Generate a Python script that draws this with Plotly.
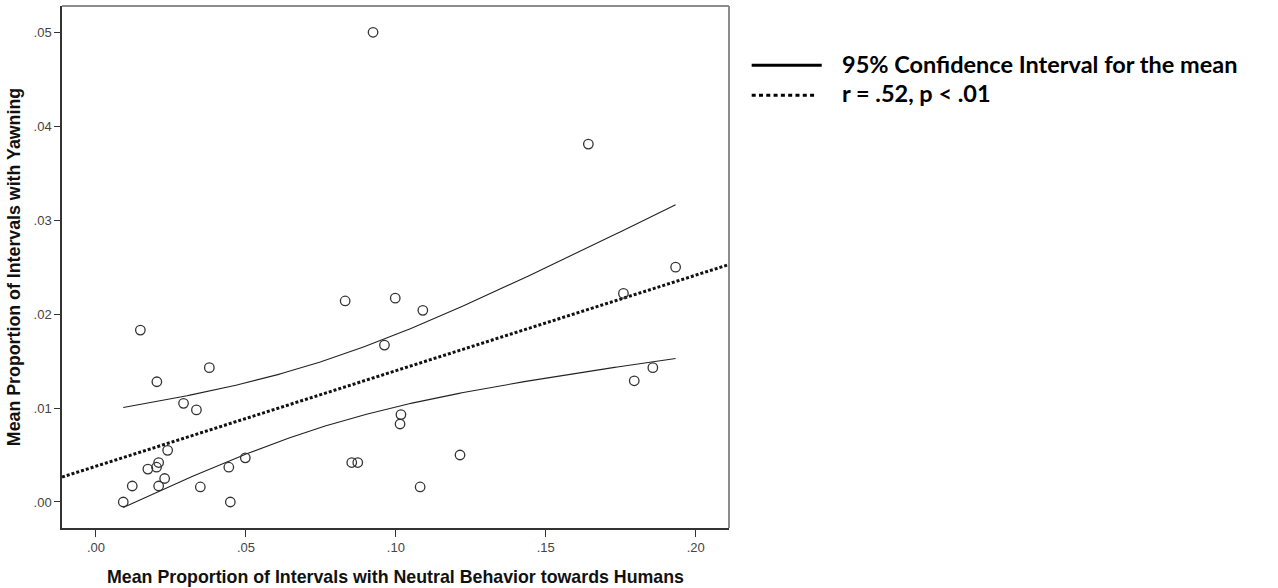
import numpy as np
import plotly.graph_objects as go

# Mean proportion of intervals with neutral behaviour towards humans (x)
# and with yawning (y), one point per subject
neutral = [0.0924, 0.1642, 0.1933, 0.1759, 0.1795, 0.1857, 0.1214, 0.1081,
           0.1017, 0.1014, 0.0998, 0.1090, 0.0962, 0.0831, 0.0853, 0.0873,
           0.0148, 0.0203, 0.0378, 0.0292, 0.0335, 0.0239, 0.0209, 0.0202,
           0.0173, 0.0229, 0.0209, 0.0121, 0.0091, 0.0348, 0.0443, 0.0448,
           0.0498]
yawning = [0.0500, 0.0381, 0.0250, 0.0222, 0.0129, 0.0143, 0.0050, 0.0016,
           0.0093, 0.0083, 0.0217, 0.0204, 0.0167, 0.0214, 0.0042, 0.0042,
           0.0183, 0.0128, 0.0143, 0.0105, 0.0098, 0.0055, 0.0042, 0.0037,
           0.0035, 0.0025, 0.0017, 0.0017, 0.0000, 0.0016, 0.0037, 0.0000,
           0.0047]

x_ticks = [0.00, 0.05, 0.10, 0.15, 0.20]
x_tick_labels = [".00", ".05", ".10", ".15", ".20"]
y_ticks = [0.00, 0.01, 0.02, 0.03, 0.04, 0.05]
y_tick_labels = [".00", ".01", ".02", ".03", ".04", ".05"]

x_range = [-0.01133, 0.2111]
y_range = [-0.00277, 0.0528]

legend_labels = ["95% Confidence Interval for the mean", "r = .52, p < .01"]

# Least-squares fit and 95% confidence band for the mean
x = np.array(neutral)
y = np.array(yawning)
n = len(x)
slope, intercept = np.polyfit(x, y, 1)
resid = y - (intercept + slope * x)
s = np.sqrt(np.sum(resid ** 2) / (n - 2))
sxx = np.sum((x - x.mean()) ** 2)
t_crit = 2.0395  # t(0.975, df=31)

xb = np.linspace(x.min(), x.max(), 200)
fit_b = intercept + slope * xb
half = t_crit * s * np.sqrt(1.0 / n + (xb - x.mean()) ** 2 / sxx)

xl = np.array(x_range)
fit_l = intercept + slope * xl

ink = "#222222"
fig = go.Figure()

fig.add_trace(go.Scatter(x=xl, y=fit_l, mode="lines",
                         line=dict(color="#111111", width=3, dash="3px,2px"),
                         hoverinfo="skip"))
for band in (fit_b + half, fit_b - half):
    fig.add_trace(go.Scatter(x=xb, y=band, mode="lines",
                             line=dict(color=ink, width=1.1),
                             hoverinfo="skip"))
fig.add_trace(go.Scatter(x=neutral, y=yawning, mode="markers",
                         marker=dict(symbol="circle-open", size=9.5,
                                     color="#333333",
                                     line=dict(width=1.3, color="#333333"))))

axis_font = dict(family="Arial, Liberation Sans, sans-serif", size=13, color="#444444")
title_font = dict(family="Arial, Liberation Sans, sans-serif", size=17.8, color="#111111")

fig.update_layout(
    width=1278, height=588,
    margin=dict(l=62, r=549, t=6, b=60),
    paper_bgcolor="white", plot_bgcolor="white",
    showlegend=False,
    xaxis=dict(range=x_range, tickvals=x_ticks, ticktext=x_tick_labels,
               showgrid=False, zeroline=False, showline=True, automargin=False,
               linecolor="#333333", linewidth=1.5,
               ticks="outside", ticklen=7, tickwidth=1.3, tickcolor="#333333",
               tickfont=axis_font,
               title=dict(text="<b>Mean Proportion of Intervals with Neutral Behavior towards Humans</b>",
                          font=title_font, standoff=16)),
    yaxis=dict(range=y_range, tickvals=y_ticks, ticktext=y_tick_labels,
               showgrid=False, zeroline=False, showline=True, automargin=False,
               linecolor="#333333", linewidth=1.5,
               ticks="outside", ticklen=6, tickwidth=1.3, tickcolor="#333333",
               tickfont=axis_font,
               title=dict(text="<b>Mean Proportion of Intervals with Yawning</b>",
                          font=title_font, standoff=8)),
)

# lighter top and right frame edges
fig.add_shape(type="line", xref="paper", yref="paper", x0=0, x1=1, y0=1, y1=1,
              line=dict(color="#8c8c8c", width=2))
fig.add_shape(type="line", xref="paper", yref="paper", x0=1, x1=1, y0=0, y1=1,
              line=dict(color="#8c8c8c", width=2))

# key drawn to the right of the plot
fig.add_shape(type="line", xref="paper", yref="paper",
              x0=1.034, x1=1.139, y0=0.8865, y1=0.8865,
              line=dict(color="black", width=3))
fig.add_shape(type="line", xref="paper", yref="paper",
              x0=1.034, x1=1.131, y0=0.829, y1=0.829,
              line=dict(color="black", width=3.2, dash="4px,3.3px"))
for label, yy in zip(legend_labels, [0.8885, 0.834]):
    fig.add_annotation(text="<b>" + label + "</b>", xref="paper", yref="paper",
                       x=(840 - 61.7) / 667.3, y=yy, xanchor="left", yanchor="middle",
                       showarrow=False,
                       font=dict(family="Lato, Open Sans, sans-serif", size=23.5, color="black"))

fig.write_html("out.html")
